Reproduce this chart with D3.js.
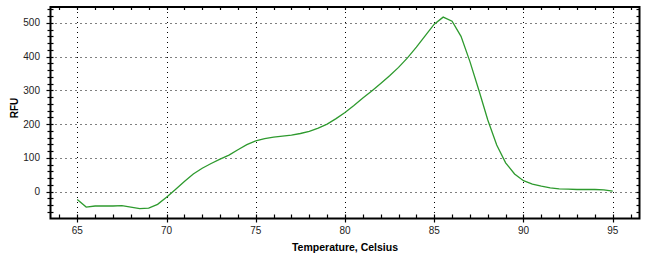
<!DOCTYPE html>
<html><head><meta charset="utf-8">
<script src="https://cdn.jsdelivr.net/npm/d3@7"></script>
<style>
html,body{margin:0;padding:0;background:#fff;}
svg{display:block;}
text{font-family:"Liberation Sans",Arial,sans-serif;}
</style></head>
<body>
<svg id="chart" width="653" height="260"></svg>
<script>
const temperatures = [65,65.5,66,66.5,67,67.5,68,68.5,69,69.5,70,70.5,71,71.5,72,72.5,73,73.5,74,74.5,75,75.5,76,76.5,77,77.5,78,78.5,79,79.5,80,80.5,81,81.5,82,82.5,83,83.5,84,84.5,85,85.5,86,86.5,87,87.5,88,88.5,89,89.5,90,90.5,91,91.5,92,92.5,93,93.5,94,94.5,95];
const rfu = [-24,-46,-43,-43,-43,-42,-46,-51,-49,-38,-17,6,30,52,69,83,96,108,124,139,150,157,161,164,167,172,178,188,200,216,234,255,277,298,320,343,368,396,428,462,496,517,505,460,385,300,212,138,85,52,32,22,16,11,8,7,6,6,6,5,1];
const xTicks = [65,70,75,80,85,90,95];
const yTicks = [0,100,200,300,400,500];
const xTitle = "Temperature, Celsius";
const yTitle = "RFU";

const svg = d3.select("#chart");
const L = 50.5, R = 639.5, T = 7, B = 218.5;
const x = d3.scaleLinear().domain([63.5, 96.5]).range([L, R]);
const y = d3.scaleLinear().domain([-80, 547]).range([B, T]);

// gridlines
const grid = svg.append("g").attr("stroke","#000").attr("stroke-width",1).attr("stroke-dasharray","1,4");
grid.selectAll("line.v").data(xTicks).join("line")
  .attr("x1", d=>Math.round(x(d))+0.5).attr("x2", d=>Math.round(x(d))+0.5)
  .attr("y1", T).attr("y2", B);
grid.selectAll("line.h").data(yTicks).join("line")
  .attr("y1", d=>Math.round(y(d))+0.5).attr("y2", d=>Math.round(y(d))+0.5)
  .attr("x1", L).attr("x2", R);

// minor ticks
const xMinor = d3.range(64, 97, 1);
const yMinor = d3.range(-60, 547, 20);
const tk = svg.append("g").attr("stroke","#000").attr("stroke-width",1.2);
tk.selectAll("line.bm").data(xMinor).join("line")
  .attr("x1", d=>Math.round(x(d))+0.5).attr("x2", d=>Math.round(x(d))+0.5)
  .attr("y1", B-4).attr("y2", d=> xTicks.includes(d) ? B+4 : B);
tk.selectAll("line.tm").data(xMinor).join("line")
  .attr("x1", d=>Math.round(x(d))+0.5).attr("x2", d=>Math.round(x(d))+0.5)
  .attr("y1", T).attr("y2", T+3);
tk.selectAll("line.lm").data(yMinor).join("line")
  .attr("y1", d=>Math.round(y(d))+0.5).attr("y2", d=>Math.round(y(d))+0.5)
  .attr("x1", d=> yTicks.includes(d) ? L-4 : L-3).attr("x2", L+3);
tk.selectAll("line.rm").data(yMinor).join("line")
  .attr("y1", d=>Math.round(y(d))+0.5).attr("y2", d=>Math.round(y(d))+0.5)
  .attr("x1", R-3).attr("x2", R);

// frame
svg.append("rect").attr("x",L).attr("y",T).attr("width",R-L).attr("height",B-T)
  .attr("fill","none").attr("stroke","#000").attr("stroke-width",2);

// tick labels
svg.append("g").selectAll("text").data(xTicks).join("text")
  .attr("x", d=>x(d)).attr("y", 234).attr("text-anchor","middle")
  .attr("font-size",10).attr("fill","#222").text(d=>d);
svg.append("g").selectAll("text").data(yTicks).join("text")
  .attr("x", 40).attr("y", d=>y(d)+3.5).attr("text-anchor","end")
  .attr("font-size",10).attr("fill","#222").text(d=>d);

// axis titles
svg.append("text").attr("x", 345).attr("y", 251).attr("text-anchor","middle")
  .attr("font-size",10.5).attr("font-weight","bold").attr("fill","#000").text(xTitle);
svg.append("text").attr("transform","translate(18,108) rotate(-90)").attr("text-anchor","middle")
  .attr("font-size",10).attr("font-weight","bold").attr("fill","#000").text(yTitle);

// curve
const line = d3.line().x((d,i)=>x(temperatures[i])).y(d=>y(d)).curve(d3.curveLinear);
svg.append("path").datum(rfu).attr("d", line)
  .attr("fill","none").attr("stroke","#2e9a2e").attr("stroke-width",1.3);
</script>
</body></html>
